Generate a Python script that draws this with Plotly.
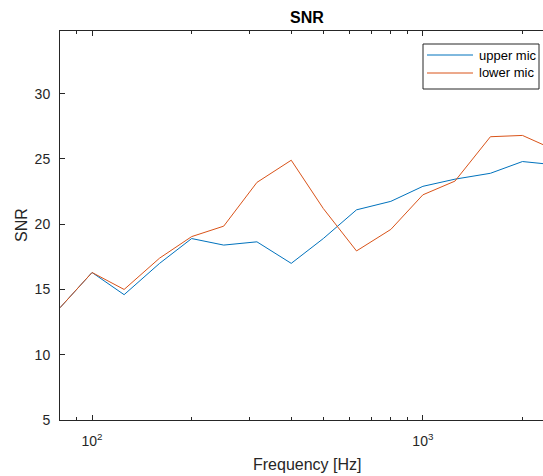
import numpy as np
import plotly.graph_objects as go

# Third-octave band centre frequencies (Hz)
freq_hz = [80, 100, 125, 160, 200, 250, 315, 400, 500, 630, 800, 1000, 1250, 1600, 2000, 2500]

# SNR per band for each microphone
snr_upper = [13.6, 16.3, 14.6, 17.0, 18.9, 18.4, 18.65, 17.0, 18.9, 21.1, 21.75, 22.9, 23.45, 23.9, 24.8, 24.55]
snr_lower = [13.6, 16.3, 15.0, 17.4, 19.05, 19.85, 23.2, 24.9, 21.2, 17.95, 19.6, 22.25, 23.3, 26.7, 26.8, 25.7]

series_names = ["upper mic", "lower mic"]
series_colors = ["#0072BD", "#D95319"]

y_ticks = [5, 10, 15, 20, 25, 30]
x_major = [100, 1000]
x_major_text = ["10<sup>2</sup>", "10<sup>3</sup>"]
x_minor = [90, 200, 300, 400, 500, 600, 700, 800, 900, 2000]

AX = "#262626"
FONT = "Liberation Sans, Arial, Helvetica, sans-serif"

W, H = 543, 476
L, R, T, B = 60, 0, 31, 56
plot_w = W - L - R
plot_h = H - T - B


def px_x(px):
    """Horizontal pixel position -> paper coordinate."""
    return (px - L) / plot_w


def px_y(py):
    """Vertical pixel position (from top) -> paper coordinate."""
    return (H - B - py) / plot_h


fig = go.Figure()
for name, vals, col in zip(series_names, [snr_upper, snr_lower], series_colors):
    fig.add_trace(go.Scatter(
        x=freq_hz, y=vals, mode="lines", name=name,
        line=dict(color=col, width=1), showlegend=False,
    ))

# Boxed legend in the upper-right corner of the axes
shapes = [dict(type="rect", xref="paper", yref="paper",
               x0=px_x(423), x1=px_x(539), y0=px_y(44), y1=px_y(89),
               line=dict(color=AX, width=1), fillcolor="white", layer="above")]
annotations = []
for i, (name, col) in enumerate(zip(series_names, series_colors)):
    row_y = 55 + i * 18
    shapes.append(dict(type="line", xref="paper", yref="paper",
                       x0=px_x(427), x1=px_x(473), y0=px_y(row_y), y1=px_y(row_y),
                       line=dict(color=col, width=1), layer="above"))
    annotations.append(dict(text=name, xref="paper", yref="paper",
                            x=px_x(477), y=px_y(row_y), xanchor="left", yanchor="middle",
                            showarrow=False, font=dict(size=13, color="#000000")))

annotations += [
    dict(text="Frequency [Hz]", xref="paper", yref="paper",
         x=px_x(307), y=px_y(464),
         xanchor="center", yanchor="middle", showarrow=False,
         font=dict(size=16, color=AX)),
    dict(text="SNR", xref="paper", yref="paper",
         x=px_x(21), y=px_y(225),
         xanchor="center", yanchor="middle", showarrow=False,
         textangle=-90, font=dict(size=16, color=AX)),
]

fig.update_layout(
    width=W, height=H,
    margin=dict(l=L, r=R, t=T, b=B),
    paper_bgcolor="white", plot_bgcolor="white",
    font=dict(family=FONT, color=AX, size=14),
    showlegend=False,
    title=dict(
        text="<b>SNR</b>", font=dict(size=16, color="#000000"),
        xref="container", x=307 / W, xanchor="center",
        yref="container", y=1 - 17 / H, yanchor="middle",
    ),
    xaxis=dict(
        type="log",
        range=[np.log10(80), np.log10(2307)],
        tickmode="array", tickvals=x_major, ticktext=x_major_text,
        ticks="inside", ticklen=5, tickcolor=AX, tickwidth=1,
        showline=True, linecolor=AX, linewidth=1, mirror="allticks",
        showgrid=False, zeroline=False,
        tickfont=dict(size=14, color=AX),
        ticklabelstandoff=8,
        minor=dict(tickmode="array", tickvals=x_minor, ticks="inside",
                   ticklen=3, tickcolor=AX, showgrid=False),
    ),
    yaxis=dict(
        range=[5, 34.8],
        tickmode="array", tickvals=y_ticks,
        ticks="inside", ticklen=5, tickcolor=AX, tickwidth=1,
        showline=True, linecolor=AX, linewidth=1, mirror=False,
        showgrid=False, zeroline=False,
        tickfont=dict(size=14, color=AX),
        ticklabelstandoff=6,
    ),
    shapes=shapes,
    annotations=annotations,
)

fig.write_html("out.html")
